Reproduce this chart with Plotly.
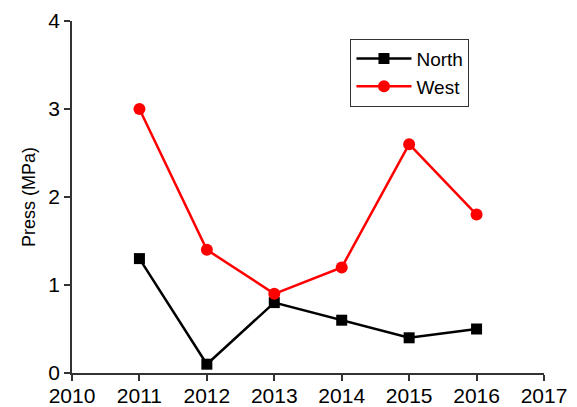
import plotly.graph_objects as go

years = [2011, 2012, 2013, 2014, 2015, 2016]
north = [1.3, 0.1, 0.8, 0.6, 0.4, 0.5]
west = [3.0, 1.4, 0.9, 1.2, 2.6, 1.8]
x_ticks = [2010, 2011, 2012, 2013, 2014, 2015, 2016, 2017]
y_ticks = [0, 1, 2, 3, 4]

fig = go.Figure()
fig.add_trace(go.Scatter(x=years, y=north, name="North", mode="lines+markers",
                         line=dict(color="black", width=2.5),
                         marker=dict(symbol="square", size=11, color="black")))
fig.add_trace(go.Scatter(x=years, y=west, name="West", mode="lines+markers",
                         line=dict(color="#ff0000", width=2.5),
                         marker=dict(symbol="circle", size=12, color="#ff0000")))

axis_common = dict(showline=True, linecolor="#333", linewidth=1.5, ticks="outside",
                   ticklen=6, tickcolor="#333", tickwidth=1.5, showgrid=False,
                   zeroline=False, mirror=False, automargin=False,
                   tickfont=dict(family="Liberation Sans, Arial", size=21, color="black"))

fig.update_layout(
    width=577, height=407,
    margin=dict(l=72, r=33, t=21, b=34),
    paper_bgcolor="white", plot_bgcolor="white",
    showlegend=True,
    legend=dict(x=0.59, y=0.95, xanchor="left", yanchor="top",
                bordercolor="#333", borderwidth=1, bgcolor="white",
                font=dict(family="Liberation Sans, Arial", size=19, color="black"),
                tracegroupgap=0, itemwidth=55),
    xaxis=dict(range=[2010, 2017], tickvals=x_ticks, ticklabelstandoff=-3, **axis_common),
    yaxis=dict(range=[0, 4], tickvals=y_ticks,
               title=dict(text="Press (MPa)", standoff=8,
                          font=dict(family="Liberation Sans, Arial", size=18, color="black")),
               **axis_common),
)

fig.write_html("out.html")
